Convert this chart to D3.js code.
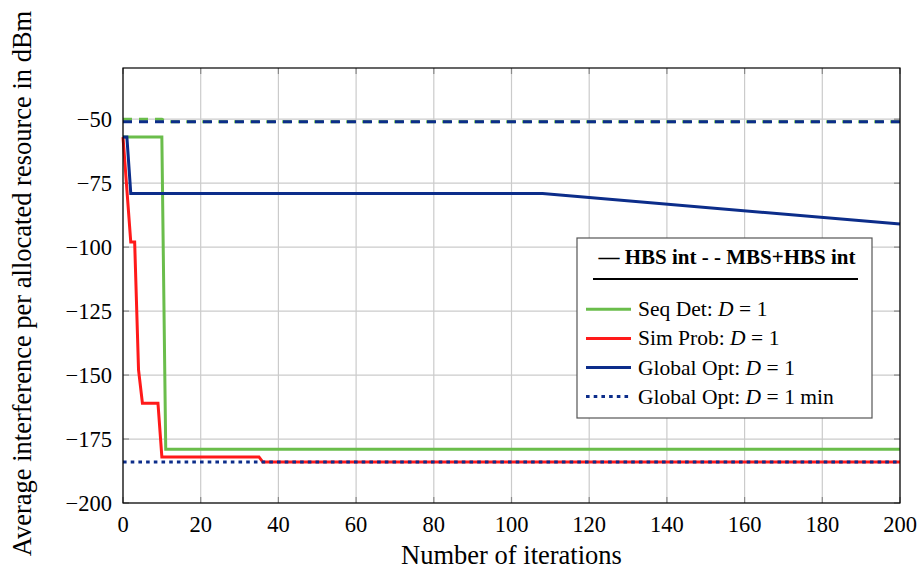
<!DOCTYPE html>
<html lang="en">
<head>
<meta charset="utf-8" />
<title>Average interference vs iterations</title>
<script src="https://d3js.org/d3.v7.min.js"></script>
<style>
  body { margin: 0; background: #fff; }
</style>
</head>
<body>
<div id="chart"></div>
<script>
  // Axis ticks
  var xTicks = [0, 20, 40, 60, 80, 100, 120, 140, 160, 180, 200];
  var yTicks = [-50, -75, -100, -125, -150, -175, -200];

  // Series (iteration, value in dBm)
  var seqDetIter = [0, 10, 11, 200];
  var seqDetHBS  = [-57, -57, -179, -179];
  var seqDetMBS  = [-50, -50, -51, -51];

  var simProbIter = [0, 2, 3, 4, 5, 9, 10, 35, 36, 200];
  var simProbHBS  = [-57, -98, -98, -148, -161, -161, -182, -182, -184, -184];

  var globalIter = [0, 1, 2, 108, 200];
  var globalHBS  = [-57, -57, -79, -79, -91];

  var globalMBSIter = [0, 200];
  var globalMBS     = [-51, -51];

  var globalMinIter = [0, 200];
  var globalMin     = [-184, -184];

  var width = 921, height = 574;
  var margin = {left: 123, right: 21, top: 68, bottom: 71};
  var font = "'Liberation Serif', 'Times New Roman', serif";

  var green = "#6abd4b", red = "#ff1a1a", blue = "#0c2d8a";

  var svg = d3.select("#chart").append("svg")
              .attr("width", width)
              .attr("height", height)
              .attr("font-family", font);

  var x = d3.scaleLinear().domain([0, 200]).range([margin.left, width - margin.right]);
  var y = d3.scaleLinear().domain([-200, -30]).range([height - margin.bottom, margin.top]);

  // grid
  svg.append("g").selectAll("line")
     .data(xTicks).enter().append("line")
     .attr("x1", function(d) { return x(d); })
     .attr("x2", function(d) { return x(d); })
     .attr("y1", y(-200)).attr("y2", y(-30))
     .attr("stroke", "#cbcbcb").attr("stroke-width", 1.2);
  svg.append("g").selectAll("line")
     .data(yTicks).enter().append("line")
     .attr("y1", function(d) { return y(d); })
     .attr("y2", function(d) { return y(d); })
     .attr("x1", x(0)).attr("x2", x(200))
     .attr("stroke", "#cbcbcb").attr("stroke-width", 1.2);

  // inner ticks on all four sides
  var tickLen = 6;
  var ticks = svg.append("g").attr("stroke", "#8a8a8a").attr("stroke-width", 1.2);
  xTicks.forEach(function(d) {
    ticks.append("line").attr("x1", x(d)).attr("x2", x(d)).attr("y1", y(-200)).attr("y2", y(-200) - tickLen);
    ticks.append("line").attr("x1", x(d)).attr("x2", x(d)).attr("y1", y(-30)).attr("y2", y(-30) + tickLen);
  });
  yTicks.forEach(function(d) {
    ticks.append("line").attr("y1", y(d)).attr("y2", y(d)).attr("x1", x(0)).attr("x2", x(0) + tickLen);
    ticks.append("line").attr("y1", y(d)).attr("y2", y(d)).attr("x1", x(200)).attr("x2", x(200) - tickLen);
  });

  // clip
  svg.append("clipPath").attr("id", "plotClip")
     .append("rect")
     .attr("x", x(0) - 2).attr("y", y(-30))
     .attr("width", x(200) - x(0) + 4).attr("height", y(-200) - y(-30));

  var line = d3.line()
               .x(function(d) { return x(d[0]); })
               .y(function(d) { return y(d[1]); });

  function pairs(xs, ys) { return xs.map(function(v, i) { return [v, ys[i]]; }); }

  var series = [
    {pts: pairs(seqDetIter, seqDetHBS), color: green, dash: null},
    {pts: pairs(simProbIter, simProbHBS), color: red, dash: null},
    {pts: pairs(globalIter, globalHBS), color: blue, dash: null},
    {pts: pairs(seqDetIter, seqDetMBS), color: green, dash: "9,7"},
    {pts: pairs(globalMBSIter, globalMBS), color: blue, dash: "9,7"},
    {pts: pairs(globalMinIter, globalMin), color: blue, dash: "3.6,4.1"}
  ];

  svg.append("g").attr("clip-path", "url(#plotClip)")
     .selectAll("path")
     .data(series).enter().append("path")
     .attr("d", function(d) { return line(d.pts); })
     .attr("fill", "none")
     .attr("stroke", function(d) { return d.color; })
     .attr("stroke-width", 3)
     .attr("stroke-dasharray", function(d) { return d.dash; });

  // frame
  svg.append("rect")
     .attr("x", x(0)).attr("y", y(-30))
     .attr("width", x(200) - x(0)).attr("height", y(-200) - y(-30))
     .attr("fill", "none").attr("stroke", "#000").attr("stroke-width", 1.2);

  // tick labels
  svg.append("g").selectAll("text")
     .data(xTicks).enter().append("text")
     .attr("x", function(d) { return x(d); })
     .attr("y", y(-200) + 29)
     .attr("text-anchor", "middle")
     .attr("font-size", 22.5)
     .text(function(d) { return d; });
  svg.append("g").selectAll("text")
     .data(yTicks).enter().append("text")
     .attr("x", x(0) - 11)
     .attr("y", function(d) { return y(d) + 7.5; })
     .attr("text-anchor", "end")
     .attr("font-size", 22.5)
     .text(function(d) { return "\u2212" + Math.abs(d); });

  // axis titles
  svg.append("text")
     .attr("x", (x(0) + x(200)) / 2)
     .attr("y", 564)
     .attr("text-anchor", "middle")
     .attr("font-size", 26.5)
     .text("Number of iterations");
  svg.append("text")
     .attr("transform", "translate(31," + ((y(-30) + y(-200)) / 2 - 2) + ") rotate(-90)")
     .attr("text-anchor", "middle")
     .attr("font-size", 26.5)
     .text("Average interference per allocated resource in dBm");

  // legend
  var legend = svg.append("g").attr("transform", "translate(577,238)");
  legend.append("rect")
        .attr("width", 295).attr("height", 180)
        .attr("fill", "#fff").attr("stroke", "#555").attr("stroke-width", 1.2);
  legend.append("text")
        .attr("x", 150).attr("y", 25.5)
        .attr("text-anchor", "middle")
        .attr("font-size", 21).attr("font-weight", "bold")
        .text("\u2014 HBS int - - MBS+HBS int");
  legend.append("line")
        .attr("x1", 16).attr("x2", 281).attr("y1", 41).attr("y2", 41)
        .attr("stroke", "#000").attr("stroke-width", 2);

  var legendItems = [
    {name: "Seq Det: ", suffix: "", color: green, dash: null},
    {name: "Sim Prob: ", suffix: "", color: red, dash: null},
    {name: "Global Opt: ", suffix: "", color: blue, dash: null},
    {name: "Global Opt: ", suffix: " min", color: blue, dash: "3.6,4.1"}
  ];
  var rows = legend.selectAll("g.item")
                   .data(legendItems).enter().append("g")
                   .attr("class", "item")
                   .attr("transform", function(d, i) { return "translate(0," + (71.3 + i * 29.1) + ")"; });
  rows.append("line")
      .attr("x1", 9).attr("x2", 54).attr("y1", 0).attr("y2", 0)
      .attr("stroke", function(d) { return d.color; })
      .attr("stroke-width", 3)
      .attr("stroke-dasharray", function(d) { return d.dash; });
  var lt = rows.append("text")
               .attr("x", 61).attr("y", 7)
               .attr("font-size", 21.5);
  lt.append("tspan").text(function(d) { return d.name; });
  lt.append("tspan").attr("font-style", "italic").text("D");
  lt.append("tspan").attr("dx", 5.5).text("=");
  lt.append("tspan").attr("dx", 5.5).text(function(d) { return "1" + d.suffix; });
</script>
</body>
</html>
